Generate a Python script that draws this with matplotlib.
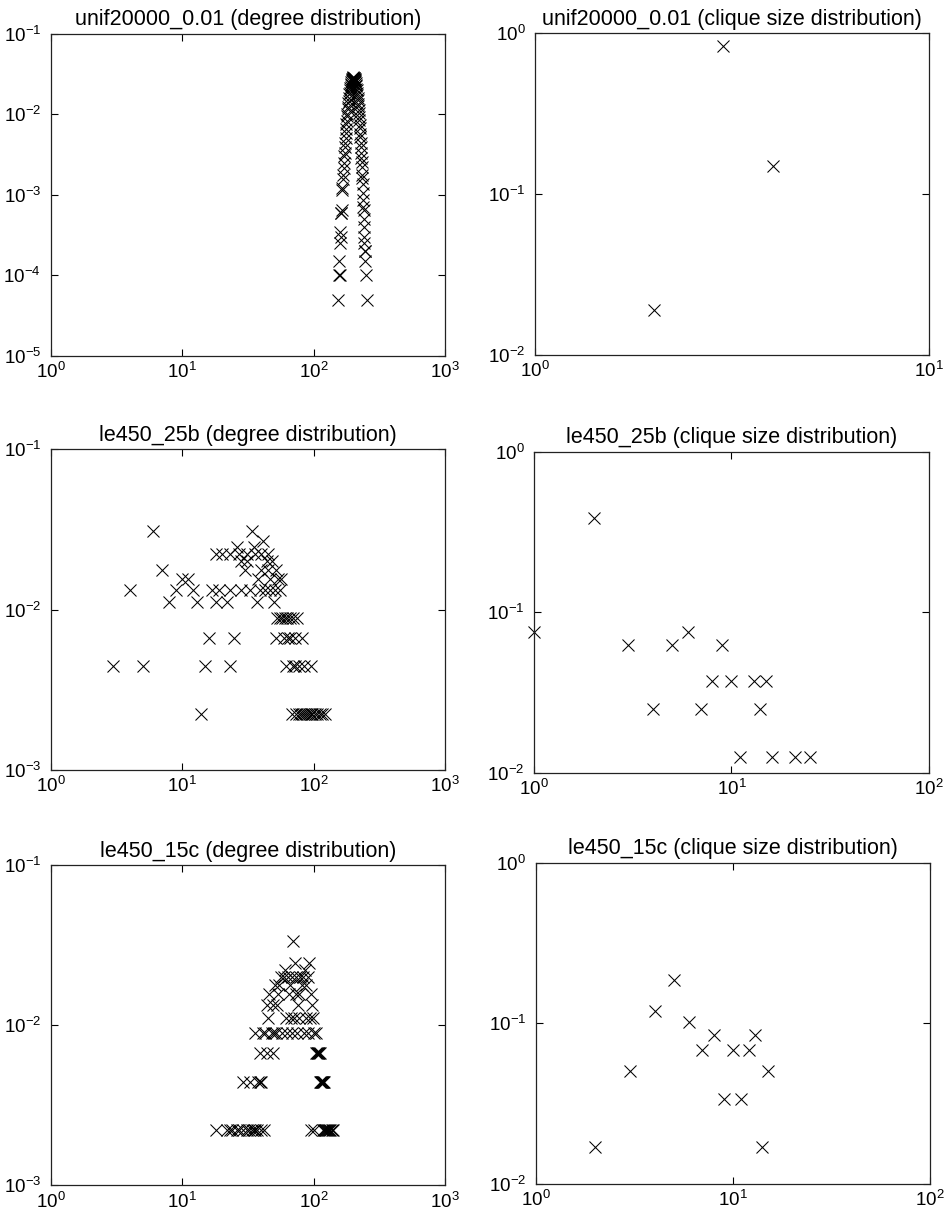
import numpy as np
import matplotlib
matplotlib.use('Agg')
import matplotlib.pyplot as plt
from matplotlib.ticker import LogLocator, NullLocator

plt.rcParams['font.family'] = ['Liberation Sans', 'DejaVu Sans']
plt.rcParams['mathtext.fontset'] = 'custom'
plt.rcParams['mathtext.rm'] = 'Liberation Sans'
plt.rcParams['mathtext.default'] = 'regular'

W, H = 953, 1212

# unif20000_0.01: number of vertices with degree 153..254
UNIF_N = 20000
unif_deg = np.arange(153, 255)
unif_cnt = [1, 0, 0, 2, 3, 2, 5, 7, 6, 12,
            12, 13, 23, 24, 31, 35, 43, 49, 60, 65,
            79, 88, 101, 118, 131, 152, 163, 190, 203, 229,
            246, 276, 295, 318, 351, 366, 397, 420, 436, 464,
            478, 505, 514, 529, 548, 552, 566, 559, 571, 563,
            557, 549, 541, 528, 522, 496, 487, 455, 447, 415,
            399, 368, 349, 318, 302, 270, 251, 224, 209, 185,
            170, 147, 134, 115, 104, 88, 79, 66, 57, 51,
            44, 35, 32, 27, 21, 17, 14, 13, 10, 6,
            8, 5, 4, 4, 3, 0, 0, 0, 2, 0,
            0, 1]

unif_clq_size = [2, 3, 4]
unif_clq_frac = [0.019, 0.834, 0.150]

# le450_25b degree distribution (450 vertices)
LE_N = 450
le25b_deg = [6, 34,
             41,
             26, 35,
             18, 20, 23, 27, 31, 36, 40, 45,
             28, 31, 44, 48,
             7, 30, 40, 45, 52,
             10, 11, 38, 47, 54, 57,
             4, 9, 12, 17, 19, 23, 28, 33, 39, 43, 47, 51, 56,
             8, 13, 18, 22, 37, 50,
             53, 56, 58, 61, 63, 66, 70, 75,
             16, 25, 52, 60, 64, 66, 72, 81,
             3, 5, 15, 23, 62, 70, 72, 78, 84, 96,
             14, 69, 73, 77, 80, 83, 86, 89, 92, 95, 98, 102, 106, 111, 116, 122]
le25b_cnt = [14, 14,
             12,
             11, 11,
             10, 10, 10, 10, 10, 10, 10, 10,
             9, 9, 9, 9,
             8, 8, 8, 8, 8,
             7, 7, 7, 7, 7, 7,
             6, 6, 6, 6, 6, 6, 6, 6, 6, 6, 6, 6, 6,
             5, 5, 5, 5, 5, 5,
             4, 4, 4, 4, 4, 4, 4, 4,
             3, 3, 3, 3, 3, 3, 3, 3,
             2, 2, 2, 2, 2, 2, 2, 2, 2, 2,
             1, 1, 1, 1, 1, 1, 1, 1, 1, 1, 1, 1, 1, 1, 1, 1]

le25b_clq_size = [1, 2, 3, 4, 5, 6, 7, 8, 9, 10, 11, 13, 14, 15, 16, 21, 25]
le25b_clq_frac = [0.075, 0.3875, 0.0625, 0.025, 0.0625, 0.075, 0.025, 0.0375, 0.0625,
                  0.0375, 0.0125, 0.0375, 0.025, 0.0375, 0.0125, 0.0125, 0.0125]

# le450_15c degree distribution (450 vertices)
le15c_deg = [70,
             72, 92,
             61, 86,
             57, 60, 64, 68, 74, 79, 83, 90,
             51, 55, 66, 81, 88,
             46, 54, 65, 73, 77, 95,
             44, 49, 53, 76, 98,
             45, 62, 67, 71, 78, 87, 94, 99,
             36, 41, 43, 48, 50, 52, 58, 63, 69, 75, 84, 91, 100, 104,
             39, 44, 49, 105, 107, 108, 109, 110, 112,
             29, 33, 38, 39, 40, 111, 113, 114, 115, 116, 117, 118, 120,
             18, 22, 23, 24, 26, 27, 29, 31, 32, 34, 35, 36, 37, 40, 42,
             96, 100, 119, 121, 123, 125, 127, 129, 131, 134, 137, 141]
le15c_cnt = [15,
             11, 11,
             10, 10,
             9, 9, 9, 9, 9, 9, 9, 9,
             8, 8, 8, 8, 8,
             7, 7, 7, 7, 7, 7,
             6, 6, 6, 6, 6,
             5, 5, 5, 5, 5, 5, 5, 5,
             4, 4, 4, 4, 4, 4, 4, 4, 4, 4, 4, 4, 4, 4,
             3, 3, 3, 3, 3, 3, 3, 3, 3,
             2, 2, 2, 2, 2, 2, 2, 2, 2, 2, 2, 2, 2,
             1, 1, 1, 1, 1, 1, 1, 1, 1, 1, 1, 1, 1, 1, 1,
             1, 1, 1, 1, 1, 1, 1, 1, 1, 1, 1, 1]

le15c_clq_size = [2, 3, 4, 5, 6, 7, 8, 9, 10, 11, 12, 13, 14, 15]
le15c_clq_frac = [0.0169, 0.0508, 0.1186, 0.1864, 0.1017, 0.0678, 0.0847,
                  0.0339, 0.0678, 0.0339, 0.0678, 0.0847, 0.0169, 0.0508]

# axes boxes in pixels: left, top, right, bottom
boxes = [(50.7, 33.5, 445.0, 356.0), (535.3, 33.3, 929.3, 355.0),
         (50.7, 449.3, 445.0, 770.0), (534.3, 451.7, 928.7, 772.7),
         (50.7, 865.0, 445.0, 1185.3), (536.0, 862.7, 930.0, 1184.0)]

panels = [
    ("unif20000_0.01 (degree distribution)", unif_deg, np.array(unif_cnt) / UNIF_N, (1, 1e3), (1e-5, 1e-1)),
    ("unif20000_0.01 (clique size distribution)", unif_clq_size, unif_clq_frac, (1, 10), (1e-2, 1)),
    ("le450_25b (degree distribution)", le25b_deg, np.array(le25b_cnt) / LE_N, (1, 1e3), (1e-3, 1e-1)),
    ("le450_25b (clique size distribution)", le25b_clq_size, le25b_clq_frac, (1, 100), (1e-2, 1)),
    ("le450_15c (degree distribution)", le15c_deg, np.array(le15c_cnt) / LE_N, (1, 1e3), (1e-3, 1e-1)),
    ("le450_15c (clique size distribution)", le15c_clq_size, le15c_clq_frac, (1, 100), (1e-2, 1)),
]

fig = plt.figure(figsize=(W / 100, H / 100), dpi=100)

for (title, xs, ys, xlim, ylim), (l, t, r, b) in zip(panels, boxes):
    ax = fig.add_axes([l / W, 1 - b / H, (r - l) / W, (b - t) / H])
    xs = np.asarray(xs, dtype=float)
    ys = np.asarray(ys, dtype=float)
    keep = ys > 0
    ax.plot(xs[keep], ys[keep], 'x', color='black', markersize=8, markeredgewidth=0.75, clip_on=False)
    ax.set_xscale('log')
    ax.set_yscale('log')
    ax.set_xlim(*xlim)
    ax.set_ylim(*ylim)
    for axis in (ax.xaxis, ax.yaxis):
        axis.set_major_locator(LogLocator(base=10, subs=(1.0,)))
        axis.set_minor_locator(NullLocator())
    ax.tick_params(which='major', direction='in', top=True, right=True, length=5, width=0.8,
                   labelsize=13.5, colors='black')
    ax.tick_params(axis='x', pad=4.5)
    ax.tick_params(axis='y', pad=7)
    for sp in ax.spines.values():
        sp.set_linewidth(0.9)
        sp.set_color('#222222')
    ax.set_title(title, fontsize=15.5, pad=6)

fig.savefig('out.png', dpi=100)
